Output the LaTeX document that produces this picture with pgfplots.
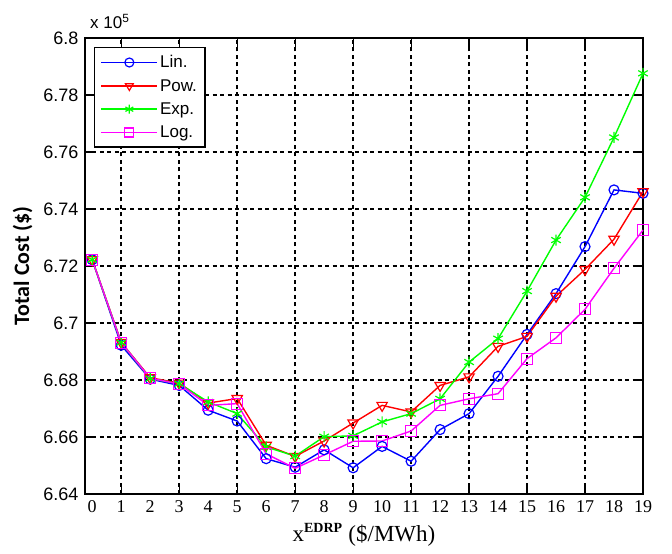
\documentclass[border=0pt]{standalone}
\usepackage{fontspec}
\usepackage{pgfplots}
\pgfplotsset{compat=1.18}
\setmainfont{Liberation Serif}
\newfontfamily\arial{Liberation Sans}
\newfontfamily\calibri{Carlito}
\definecolor{mblue}{rgb}{0,0,1}
\definecolor{mred}{rgb}{1,0,0}
\definecolor{mgreen}{rgb}{0,1,0}
\definecolor{mmag}{rgb}{1,0,1}
\pgfplotsset{mylegend/.style={legend image code/.code={%
  \draw[##1, line width=1.5pt, solid] (0pt,0pt) -- (56pt,0pt);
  \path[##1] plot[only marks, mark size=4.5pt] coordinates {(28pt,0pt)};}}}
\begin{document}
\begin{tikzpicture}
\begin{axis}[
  scale only axis, width=558pt, height=456pt,
  xmin=-0.25, xmax=19, ymin=6.64, ymax=6.8,
  axis line style={line width=1.6pt},
  xtick={1,3,...,19}, xticklabels={},
  extra x ticks={0,1,...,19},
  extra x tick labels={0,1,2,3,4,5,6,7,8,9,10,11,12,13,14,15,16,17,18,19},
  extra x tick style={major tick length=0pt, xmajorgrids=false, tick style={draw=none},
     xticklabel style={font=\fontsize{18}{18}\selectfont, yshift=-3pt}},
  ytick={6.64,6.66,6.68,6.7,6.72,6.74,6.76,6.78,6.8},
  yticklabels={6.64,6.66,6.68,6.7,6.72,6.74,6.76,6.78,6.8},
  yticklabel style={font=\arial\fontsize{18}{18}\selectfont, xshift=-3pt},
  tick align=inside, major tick length=9pt,
  tick style={black, line width=1.2pt},
  xmajorgrids, ymajorgrids,
  major grid style={black, line width=1.8pt, dash pattern=on 4pt off 3.5pt},
  xlabel={x$^{\textbf{\fontsize{14}{14}\selectfont EDRP}}$ (\$/MWh)},
  xlabel style={font=\fontsize{23}{23}\selectfont, yshift=-4pt},
  ylabel={\textbf{Total Cost (\$)}},
  ylabel style={font=\calibri\fontsize{22}{22}\selectfont, yshift=4pt},
  legend style={at={(0,1)}, anchor=north west, xshift=9pt, yshift=-9pt,
     font=\arial\fontsize{17}{17}\selectfont, draw=black, line width=1.2pt,
     row sep=6pt, inner xsep=6pt, inner ysep=6pt, cells={anchor=west}},
  every axis plot/.append style={line width=1.4pt},
  clip=false,
]
\addplot[mylegend, mblue, mark=o, mark size=5pt, mark options={solid, line width=1.2pt}] coordinates {
(0,6.7222) (1,6.6922) (2,6.6803) (3,6.6781) (4,6.6694) (5,6.6656) (6,6.6524) (7,6.6494) (8,6.6555) (9,6.6492)
(10,6.6567) (11,6.6515) (12,6.6626) (13,6.6682) (14,6.6813) (15,6.6960) (16,6.7103) (17,6.7268) (18,6.7467) (19,6.7455)};
\addlegendentry{Lin.}
\addplot[mylegend, mred, mark=triangle, mark size=6pt, mark options={solid, rotate=180, line width=1.2pt}] coordinates {
(0,6.7222) (1,6.6932) (2,6.6808) (3,6.6789) (4,6.6719) (5,6.6735) (6,6.6571) (7,6.6532) (8,6.6586) (9,6.6649)
(10,6.6711) (11,6.6688) (12,6.6781) (13,6.6811) (14,6.6918) (15,6.6953) (16,6.7094) (17,6.7188) (18,6.7294) (19,6.7461)};
\addlegendentry{Pow.}
\addplot[mylegend, mgreen, mark=asterisk, mark size=5.5pt, mark options={solid, line width=1.2pt}] coordinates {
(0,6.7222) (1,6.6931) (2,6.6805) (3,6.6787) (4,6.6723) (5,6.6682) (6,6.6565) (7,6.6533) (8,6.6601) (9,6.6604)
(10,6.6653) (11,6.6682) (12,6.6734) (13,6.6863) (14,6.6945) (15,6.7112) (16,6.7291) (17,6.7441) (18,6.7651) (19,6.7876)};
\addlegendentry{Exp.}
\addplot[mylegend, mmag, mark=square, mark size=5.5pt, mark options={solid, line width=1.2pt}] coordinates {
(0,6.7222) (1,6.6931) (2,6.6806) (3,6.6786) (4,6.6711) (5,6.6717) (6,6.6541) (7,6.6490) (8,6.6537) (9,6.6585)
(10,6.6586) (11,6.6621) (12,6.6711) (13,6.6734) (14,6.6752) (15,6.6875) (16,6.6948) (17,6.7048) (18,6.7192) (19,6.7326)};
\addlegendentry{Log.}
\node[anchor=south west, font=\arial\fontsize{17}{17}\selectfont, inner sep=0pt] at ([xshift=5pt,yshift=9pt]rel axis cs:0,1) {x 10\textsuperscript{5}};
\end{axis}
\pgfresetboundingbox
\path ([xshift=-85pt,yshift=-60pt]current axis.south west) rectangle ([xshift=29pt,yshift=38pt]current axis.north east);
\end{tikzpicture}
\end{document}
